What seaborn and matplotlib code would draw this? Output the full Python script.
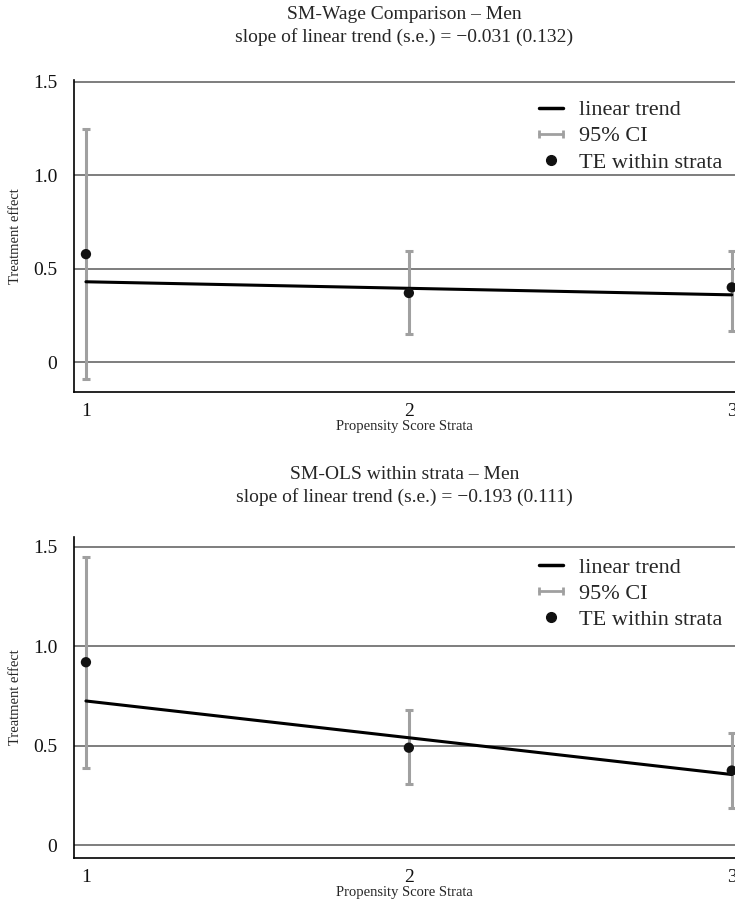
import matplotlib
matplotlib.use("Agg")
import matplotlib.pyplot as plt
import seaborn as sns
from matplotlib.lines import Line2D
from matplotlib.legend_handler import HandlerLine2D

# propensity score strata
strata = [1, 2, 3]

# SM-Wage comparison (top panel)
wage_te = [0.578, 0.37, 0.40]
wage_lo = [-0.09, 0.15, 0.165]
wage_hi = [1.25, 0.595, 0.597]
wage_trend = [0.43, 0.36]  # fitted trend at strata 1 and 3

# SM-OLS within strata (bottom panel)
ols_te = [0.92, 0.49, 0.375]
ols_lo = [0.39, 0.305, 0.185]
ols_hi = [1.45, 0.68, 0.565]
ols_trend = [0.725, 0.355]

titles = ["SM-Wage Comparison \u2013 Men\nslope of linear trend (s.e.) = \u22120.031 (0.132)",
          "SM-OLS within strata \u2013 Men\nslope of linear trend (s.e.) = \u22120.193 (0.111)"]
ytick_vals = [0, 0.5, 1.0, 1.5]
ytick_labels = ["0", "0.5", "1.0", "1.5"]

sns.set_theme(style="white")
plt.rcParams['font.family'] = ['Liberation Serif', 'DejaVu Serif']

CI_COLOR = "#a0a0a0"
GRID_COLOR = "#5a5a5a"

fig = plt.figure(figsize=(7.35, 9.13), dpi=100)
W, H = 735, 913


def panel(rect_px, te, lo, hi, trend, ylim, title, title_y):
    l, t, r, b = rect_px
    ax = fig.add_axes([l / W, 1 - b / H, (r - l) / W, (b - t) / H])

    for yv in ytick_vals:
        ax.axhline(yv, color=GRID_COLOR, lw=1.1, zorder=1)

    lower = [v - a for v, a in zip(te, lo)]
    upper = [a - v for v, a in zip(te, hi)]
    ax.errorbar(strata, te, yerr=[lower, upper], fmt='none', ecolor=CI_COLOR,
                elinewidth=2.2, capsize=2.8, capthick=2.2, zorder=2)
    sns.lineplot(x=[strata[0], strata[-1]], y=trend, color='black', lw=2.2, ax=ax, zorder=3)
    sns.scatterplot(x=strata, y=te, color='#111111', s=55, edgecolor='none', ax=ax, zorder=4)

    ax.set_xlim(0.963, 3.01)
    ax.set_ylim(*ylim)
    ax.set_xticks(strata)
    ax.set_xticklabels([str(s) for s in strata])
    ax.set_yticks(ytick_vals)
    ax.set_yticklabels(ytick_labels)
    ax.tick_params(axis='both', direction='out', length=6, width=1, color='black',
                   labelsize=14, labelcolor='#111111')
    ax.tick_params(axis='x', length=5, pad=3)
    ax.tick_params(axis='y', pad=6)
    for s in ['top', 'right']:
        ax.spines[s].set_visible(False)
    for s in ['left', 'bottom']:
        ax.spines[s].set_color('black')
        ax.spines[s].set_linewidth(1.2)
    ax.set_xlabel("Propensity Score Strata", fontsize=10.5, labelpad=0)
    ax.set_ylabel("Treatment effect", fontsize=10.5, labelpad=8)

    handles = [Line2D([], [], color='black', lw=2.5),
               Line2D([0, 1], [0, 0], color=CI_COLOR, lw=2, marker='|', markersize=6, mew=2),
               Line2D([], [], ls='none', marker='o', color='#111111', markersize=7)]
    labels = ["linear trend", "95% CI", "TE within strata"]
    ax.legend(handles, labels, loc='upper left', bbox_to_anchor=(0.69, 0.965),
              frameon=False, fontsize=16, handlelength=1.1, handletextpad=0.7,
              labelspacing=0.25, borderaxespad=0,
              handler_map={handles[1]: HandlerLine2D(numpoints=2, marker_pad=0)})

    fig.text((l + r) / 2 / W, 1 - title_y / H, title, ha='center', va='top',
             fontsize=14, linespacing=1.4)
    return ax


panel((74, 80, 735, 392), wage_te, wage_lo, wage_hi, wage_trend, (-0.16, 1.51), titles[0], 6)
panel((74, 537, 735, 858), ols_te, ols_lo, ols_hi, ols_trend, (-0.065, 1.55), titles[1], 466)

fig.savefig("out.png", dpi=100, facecolor='white')
